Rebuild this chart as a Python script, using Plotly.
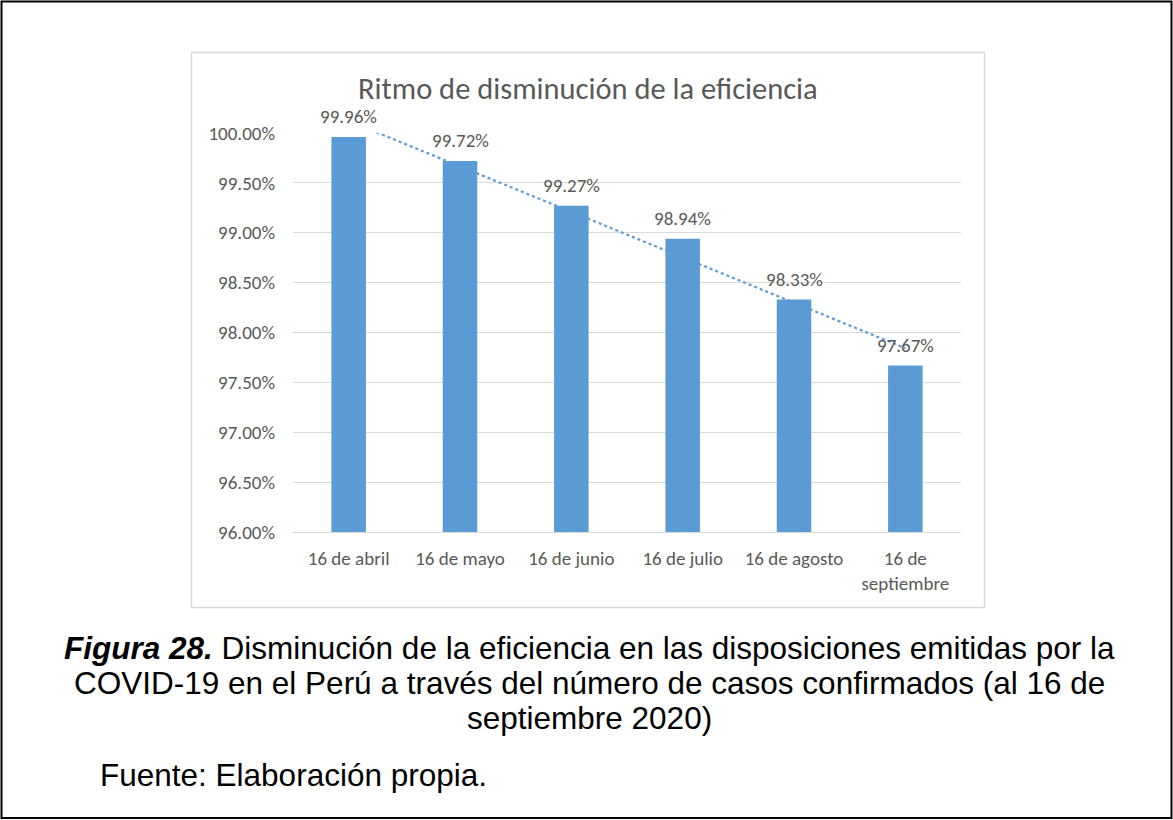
import numpy as np
import plotly.graph_objects as go

categories = ["16 de abril", "16 de mayo", "16 de junio", "16 de julio", "16 de agosto", "16 de<br>septiembre"]
values = [99.96, 99.72, 99.27, 98.94, 98.33, 97.67]
y_ticks = [96.0, 96.5, 97.0, 97.5, 98.0, 98.5, 99.0, 99.5, 100.0]

W, H = 1173, 820
L, R, T, B = 293, 961, 133, 532  # plot area pixels

def px(x):
    return (x - L) / (R - L)

def py(y):
    return (B - y) / (B - T)

GRAY = "#595959"
CHART_FONT = "Calibri, Carlito, Lato, sans-serif"
TICK_SIZE = 19

fig = go.Figure()
fig.add_trace(go.Bar(x=categories, y=values, marker_color="#5B9BD5",
                     marker_line_width=0, showlegend=False, hoverinfo="skip"))

# linear trendline from data
idx = np.arange(1, len(values) + 1)
slope, intercept = np.polyfit(idx, values, 1)
trend = slope * idx + intercept
fig.add_trace(go.Scatter(x=categories, y=trend, mode="lines",
                         line=dict(color="#5B9BD5", width=2.2, dash="dot"),
                         showlegend=False, hoverinfo="skip"))

for c, v in zip(categories, values):
    fig.add_annotation(x=c, y=v, text=f"{v:.2f}%", showarrow=False, yshift=20,
                       font=dict(family=CHART_FONT, size=TICK_SIZE, color=GRAY))

# chart title
fig.add_annotation(xref="paper", yref="paper", x=px(588), y=py(88), text="Ritmo de disminución de la eficiencia",
                   showarrow=False, xanchor="center", yanchor="middle",
                   font=dict(family=CHART_FONT, size=30.5, color=GRAY))

# chart area border
fig.add_shape(type="rect", xref="paper", yref="paper", x0=px(191.5), x1=px(984.5), y0=py(607.5), y1=py(52.5),
              line=dict(color="#D9D9D9", width=1.5), layer="below")
# outer border
fig.add_shape(type="rect", xref="paper", yref="paper", x0=px(1.5), x1=px(1171.5), y0=py(818), y1=py(1.5),
              line=dict(color="#000000", width=2), layer="below")

CAP_FONT = "Liberation Sans, Arial, sans-serif"
CAP_SIZE = 31.5
fig.add_annotation(xref="paper", yref="paper", x=px(589), y=py(648),
                   text="<b><i>Figura 28.</i></b> Disminución de la eficiencia en las disposiciones emitidas por la",
                   showarrow=False, xanchor="center", yanchor="middle",
                   font=dict(family=CAP_FONT, size=CAP_SIZE, color="#000000"))
fig.add_annotation(xref="paper", yref="paper", x=px(589), y=py(683),
                   text="COVID-19 en el Perú a través del número de casos confirmados (al 16 de",
                   showarrow=False, xanchor="center", yanchor="middle",
                   font=dict(family=CAP_FONT, size=CAP_SIZE, color="#000000"))
fig.add_annotation(xref="paper", yref="paper", x=px(589), y=py(718),
                   text="septiembre 2020)",
                   showarrow=False, xanchor="center", yanchor="middle",
                   font=dict(family=CAP_FONT, size=CAP_SIZE, color="#000000"))
fig.add_annotation(xref="paper", yref="paper", x=px(98), y=py(775),
                   text="Fuente: Elaboración propia.",
                   showarrow=False, xanchor="left", yanchor="middle",
                   font=dict(family=CAP_FONT, size=CAP_SIZE, color="#000000"))

fig.update_layout(
    width=W, height=H,
    margin=dict(l=L, r=W - R, t=T, b=H - B, pad=0),
    paper_bgcolor="white", plot_bgcolor="white",
    bargap=0.69,
    font=dict(family=CHART_FONT, color=GRAY, size=TICK_SIZE),
)
fig.update_xaxes(showgrid=False, showline=True, linecolor="#D9D9D9", linewidth=1.3,
                 ticks="", tickfont=dict(family=CHART_FONT, size=TICK_SIZE, color=GRAY),
                 ticklabelstandoff=9, fixedrange=True)
fig.update_yaxes(range=[96, 100], tickvals=y_ticks, ticktext=[f"{t:.2f}%" for t in y_ticks],
                 showgrid=True, gridcolor="#D9D9D9", gridwidth=1.3, zeroline=False, showline=False,
                 ticks="", tickfont=dict(family=CHART_FONT, size=TICK_SIZE, color=GRAY),
                 ticklabelstandoff=17, fixedrange=True)

fig.write_html("out.html", config={"displayModeBar": False},
               post_script="document.body.style.margin='0';document.body.style.overflow='hidden';")
